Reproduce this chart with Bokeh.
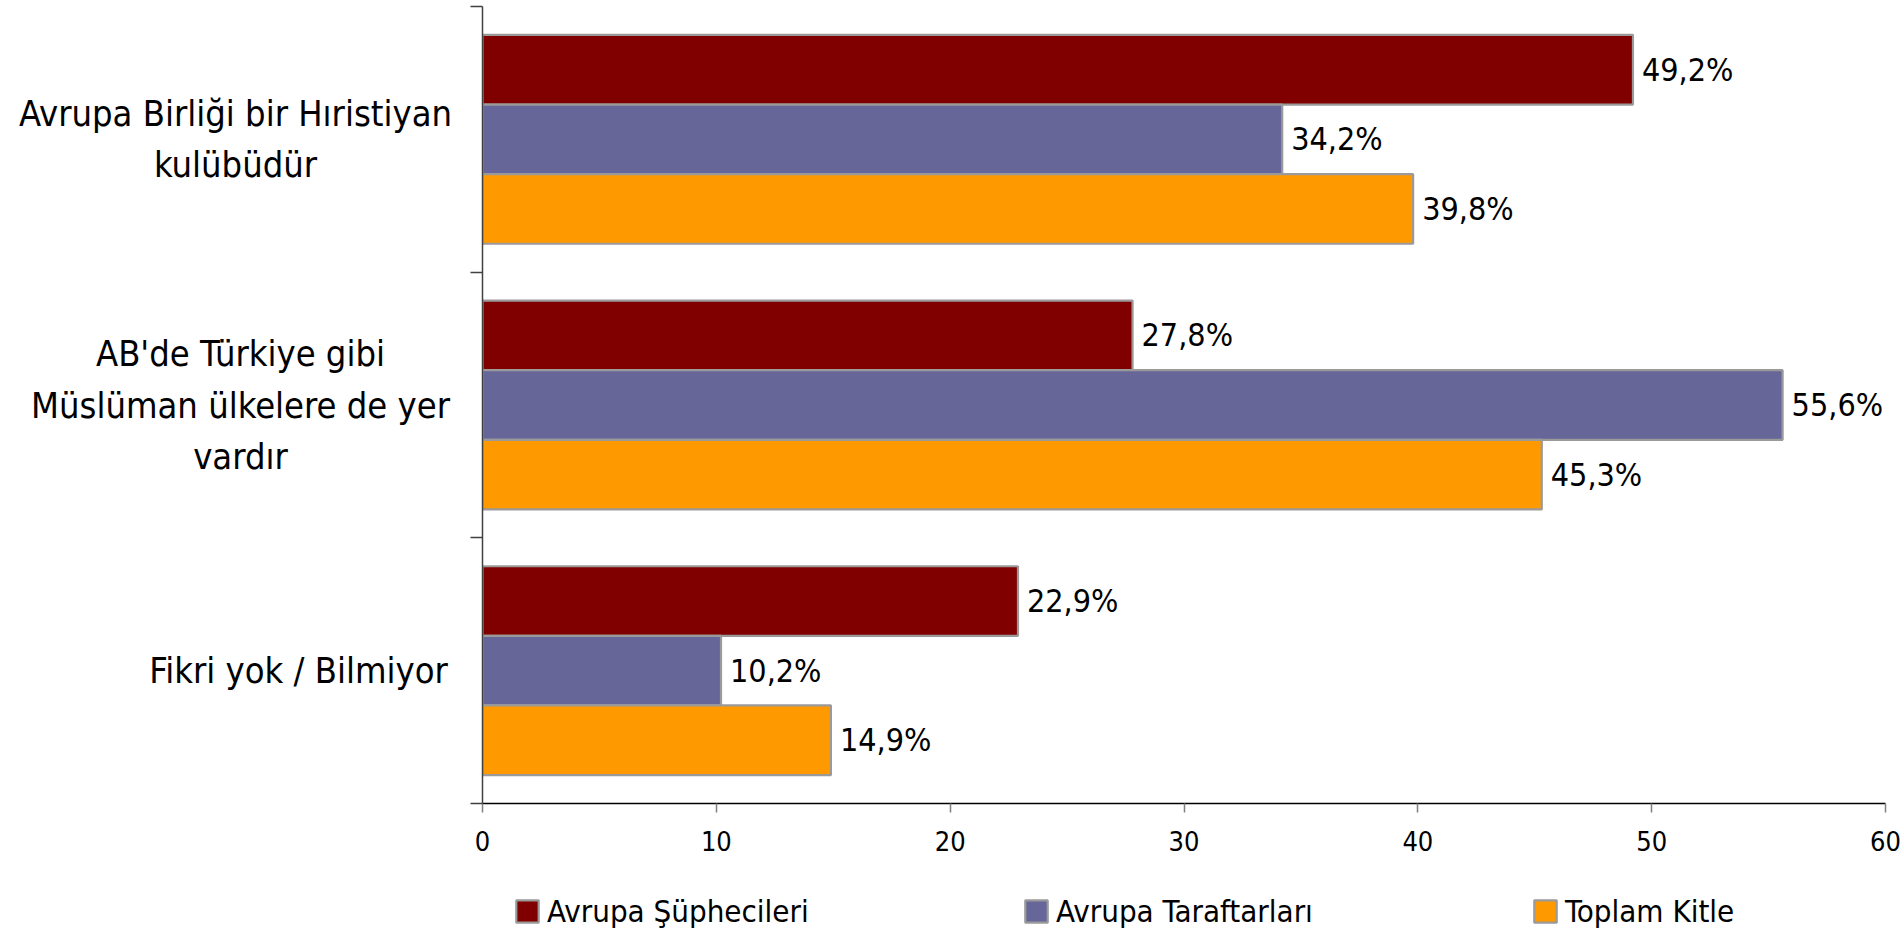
from bokeh.plotting import figure
from bokeh.layouts import column, row
from bokeh.models import Range1d, FixedTicker, Legend, LegendItem, ColumnDataSource
from bokeh.core.properties import value
from bokeh.embed import file_html
from bokeh.resources import INLINE

# ---- data ----
categories = [
    "Avrupa Birliği bir Hıristiyan\nkulübüdür",
    "AB'de Türkiye gibi\nMüslüman ülkelere de yer\nvardır",
    "Fikri yok / Bilmiyor",
]
series_names = ["Avrupa Şüphecileri", "Avrupa Taraftarları", "Toplam Kitle"]
supheciler = [49.2, 27.8, 22.9]
taraftarlar = [34.2, 55.6, 10.2]
toplam = [39.8, 45.3, 14.9]
x_ticks = [0, 10, 20, 30, 40, 50, 60]

# ---- style / layout ----
colors = ["#800000", "#666699", "#FF9900"]
OUTLINE = "#9a9a9a"
FONT = "DejaVu Sans Condensed"
LEFT_W = 470
MAIN_H = 870
LEG_H = 63
TOP, BOTTOM = 6, 67

n = len(categories)
centers = [n - i - 0.5 for i in range(n)]
y_range = Range1d(0, n)
series_vals = [supheciler, taraftarlar, toplam]

# ---- main chart ----
p = figure(width=1903 - LEFT_W, height=MAIN_H, output_backend="svg", toolbar_location=None,
           x_range=Range1d(0, 60), y_range=y_range,
           min_border_left=12, min_border_right=18, min_border_top=TOP,
           min_border_bottom=BOTTOM)
p.xgrid.visible = False
p.ygrid.visible = False
p.outline_line_color = None

bar_h = 0.262
offsets = [bar_h, 0.0, -bar_h]
sources = []
for j, (name, vals, col) in enumerate(zip(series_names, series_vals, colors)):
    ys = [c + offsets[j] for c in centers]
    src = ColumnDataSource(dict(
        y=ys, right=vals,
        label=[f"{v:.1f}".replace(".", ",") + "%" for v in vals]))
    sources.append(src)
    p.hbar(y="y", right="right", left=0, height=bar_h, source=src,
           fill_color=col, line_color=OUTLINE, line_width=2.2)
    p.text(x="right", y="y", text="label", source=src, x_offset=9,
           text_baseline="middle", text_align="left",
           text_font=value(FONT), text_font_size="32px", text_color="black")

xa = p.xaxis[0]
xa.ticker = FixedTicker(ticks=x_ticks)
xa.axis_line_color = "black"
xa.axis_line_width = 1.5
xa.major_tick_line_color = "#808080"
xa.major_tick_line_width = 1.5
xa.major_tick_out = 9
xa.major_tick_in = 0
xa.minor_tick_line_color = None
xa.major_label_text_font = FONT
xa.major_label_text_font_size = "27px"
xa.major_label_text_color = "black"
xa.major_label_standoff = 18

ya = p.yaxis[0]
ya.ticker = FixedTicker(ticks=list(range(n + 1)))
ya.major_label_overrides = {i: "" for i in range(n + 1)}
ya.major_label_standoff = 0
ya.axis_line_color = "#404040"
ya.axis_line_width = 1.5
ya.major_tick_line_color = "#404040"
ya.major_tick_line_width = 1.5
ya.major_tick_out = 12
ya.major_tick_in = 0
ya.minor_tick_line_color = None

# ---- category labels (left panel) ----
lp = figure(width=LEFT_W, height=MAIN_H, output_backend="svg", toolbar_location=None,
            x_range=Range1d(0, LEFT_W), y_range=y_range,
            min_border_left=0, min_border_right=0, min_border_top=TOP,
            min_border_bottom=BOTTOM, x_axis_location=None, y_axis_location=None)
lp.xgrid.visible = False
lp.ygrid.visible = False
lp.outline_line_color = None
label_cx = [235, 240, 298]   # horizontal centres of the label blocks (pixels)
lp.text(x=label_cx, y=centers, text=categories, text_align="center",
        text_baseline="middle", text_font=value(FONT), text_font_size="36px",
        text_line_height=1.25, text_color="black")

# ---- legend strip ----
lg = figure(width=1903, height=LEG_H, output_backend="svg", toolbar_location=None,
            x_range=Range1d(0, 1), y_range=Range1d(0, 1),
            min_border_left=0, min_border_right=0, min_border_top=0,
            min_border_bottom=0, x_axis_location=None, y_axis_location=None)
lg.xgrid.visible = False
lg.ygrid.visible = False
lg.outline_line_color = None
items = []
for nm, col, src in zip(series_names, colors, sources):
    # hidden copy of the series, used only to draw the legend swatch
    r = lg.hbar(y="y", right="right", left=0, height=bar_h, source=src,
                fill_color=col, line_color=OUTLINE, line_width=2.2, visible=False)
    items.append(LegendItem(label=nm, renderers=[r]))
legend = Legend(items=items, location=(513, 4), orientation="horizontal",
                glyph_width=28, glyph_height=28, label_standoff=6,
                label_width=475, padding=0, margin=0, spacing=0,
                border_line_color=None, background_fill_alpha=0,
                inactive_fill_alpha=0,
                label_text_font=FONT, label_text_font_size="31px",
                label_text_baseline="middle", label_text_color="black")
lg.add_layout(legend, "center")

layout = column(row(lp, p), lg)
open("out.html", "w").write(file_html(layout, INLINE))
